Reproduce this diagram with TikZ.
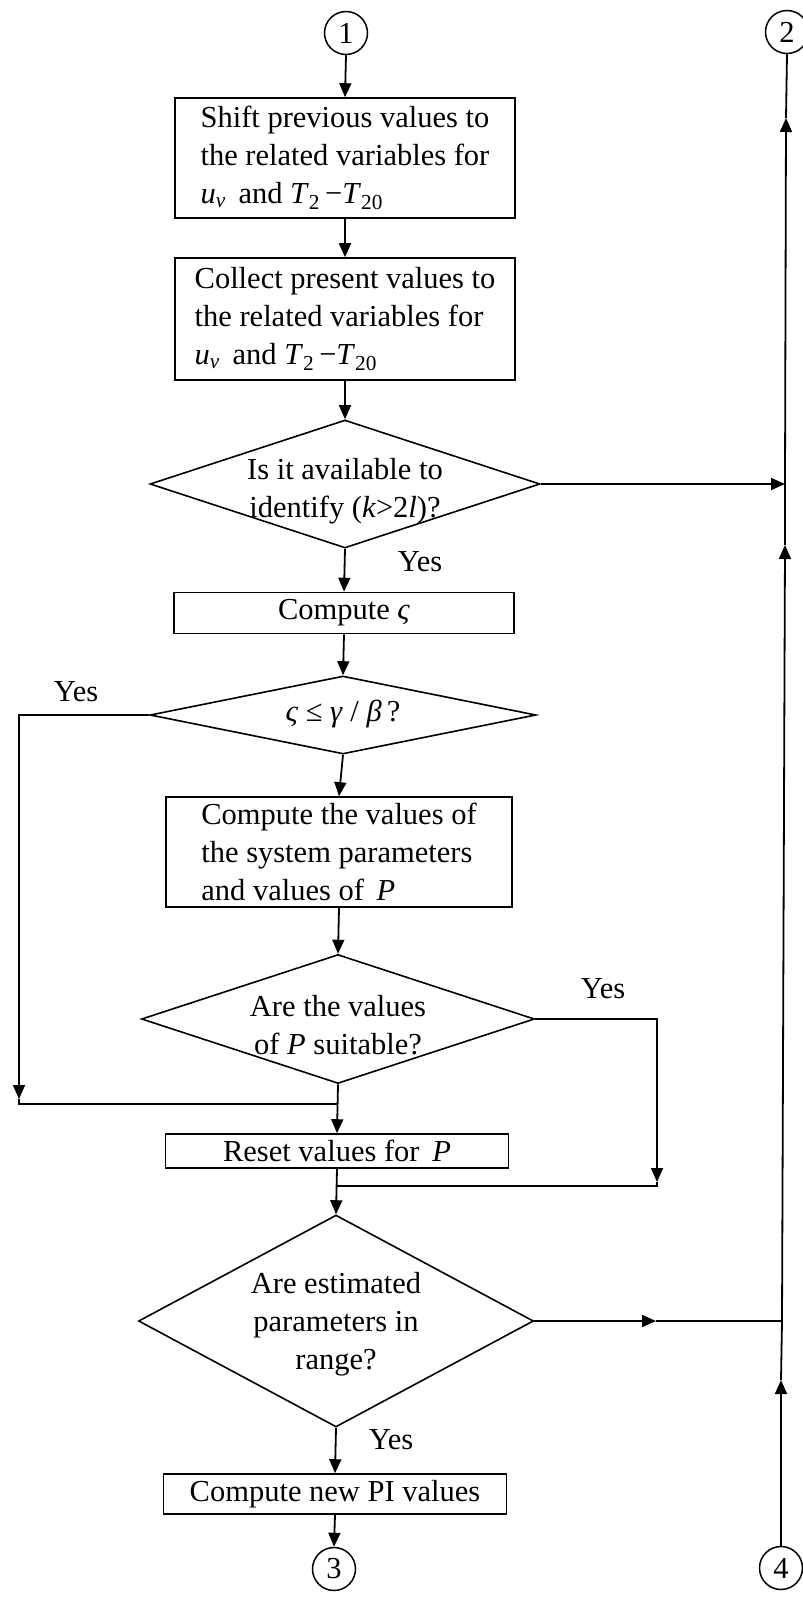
\documentclass[tikz,border=0pt]{standalone}
\usepackage{fontspec}
\setmainfont{Liberation Serif}
\usetikzlibrary{shapes.geometric,arrows.meta}
\begin{document}
\begin{tikzpicture}[x=1pt,y=-1pt,
  txt/.style={font=\fontsize{30.5}{38}\selectfont, inner sep=0pt},
  ln/.style={line width=1.8pt},
  arr/.style={line width=1.8pt,-{Triangle[length=14pt,width=12pt]}},
  pbox/.style={draw, line width=1.6pt, rectangle, inner sep=0pt, font=\fontsize{30.5}{38}\selectfont},
  lbox/.style={pbox, align=left},
  dia/.style={draw, line width=1.6pt, diamond, inner sep=0pt},
  conn/.style={draw, circle, line width=1.5pt, minimum size=43pt, inner sep=0pt, font=\fontsize{30.5}{38}\selectfont}]
\useasboundingbox (0,0) rectangle (803,1601);

% connectors (circles)
\node[conn] (c1) at (346,33) {1};
\node[conn] (c2) at (787,32) {2};
\node[conn] (c3) at (334,1569) {3};
\node[conn] (c4) at (781,1568) {4};

% boxes
\node[lbox, minimum width=340pt, minimum height=120pt] (b1) at (345,158)
  {Shift previous values to\\the related variables for\\\textit{u}\textsubscript{\textit{v}}\, and \textit{T}\textsubscript{2}\,−\textit{T}\textsubscript{20}};
\node[lbox, minimum width=340pt, minimum height=122pt] (b2) at (345,319)
  {Collect present values to\\the related variables for\\\textit{u}\textsubscript{\textit{v}}\, and \textit{T}\textsubscript{2}\,−\textit{T}\textsubscript{20}};
\node[dia, minimum width=390pt, minimum height=128pt] (d1) at (345,484) {};
\node[txt, align=center] (d1t) at (345,491) {Is it available to\\identify (\textit{k}>2\textit{l})?};
\node[pbox, minimum width=340pt, minimum height=41pt] (bs) at (344,613) {Compute \textit{ς}};
\node[dia, minimum width=386pt, minimum height=78pt] (d2) at (343,715) {};
\node[txt] (d2t) at (343,714) {\textit{ς} ≤ \textit{γ} / \textit{β}\,?};
\node[lbox, minimum width=346pt, minimum height=110pt] (bv) at (339,852)
  {Compute the values of\\the system parameters\\and values of \,\textit{P}};
\node[dia, minimum width=393pt, minimum height=129pt] (d3) at (338,1019) {};
\node[txt, align=center] (d3t) at (338,1025) {Are the values\\of \textit{P} suitable?};
\node[pbox, minimum width=343pt, minimum height=34pt] (br) at (337,1151) {Reset values for \,\textit{P}};
\node[dia, minimum width=395pt, minimum height=212pt] (d4) at (336,1321) {};
\node[txt, align=center] (d4t) at (336,1324) {Are estimated\\parameters in\\range?};
\node[pbox, minimum width=343pt, minimum height=40pt] (bp) at (335,1494) {Compute new PI values};

% Yes labels
\node[txt] (y1) at (420,562) {Yes};
\node[txt] (y2) at (76,692) {Yes};
\node[txt] (y3) at (603,989) {Yes};
\node[txt] (y4) at (391,1440) {Yes};

% coordinates
\coordinate (j1) at (785,484);
\coordinate (j2) at (782,1321);
\coordinate (u1) at (786,118);
\coordinate (u2) at (785,545);
\coordinate (u3) at (781,1380);
\coordinate (h4) at (656,1321);
\coordinate (lt) at (19,1099);
\coordinate (lc) at (19,1104);
\coordinate (m1) at (338,1104);
\coordinate (rt) at (657,1182);
\coordinate (rc) at (657,1186);
\coordinate (m2) at (337,1186);

% main flow
\draw[arr] (c1.south) -- (b1.north);
\draw[arr] (b1.south) -- (b2.north);
\draw[arr] (b2.south) -- (d1.north);
\draw[arr] (d1.south) -- (bs.north);
\draw[arr] (bs.south) -- (d2.north);
\draw[arr] (d2.south) -- (bv.north);
\draw[arr] (bv.south) -- (d3.north);
\draw[arr] (d3.south) -- (br.north);
\draw[arr] (br.south) -- (d4.north);
\draw[arr] (d4.south) -- (bp.north);
\draw[arr] (bp.south) -- (c3.north);

% left loop
\draw[arr] (d2.west) -| (lt);
\draw[ln] (lt) -- (lc) -- (m1);

% right branch of d3
\draw[arr] (d3.east) -| (rt);
\draw[ln] (rt) -- (rc) -- (m2);

% right side line
\draw[arr] (d1.east) -- (j1);
\draw[arr] (d4.east) -- (h4);
\draw[ln] (h4) -- (j2);
\draw[arr] (c4.north) -- (u3);
\draw[ln] (u3) -- (j2);
\draw[arr] (j2) -- (u2);
\draw[ln] (u2) -- (j1);
\draw[arr] (j1) -- (u1);
\draw[ln] (u1) -- (c2.south);
\end{tikzpicture}
\end{document}
